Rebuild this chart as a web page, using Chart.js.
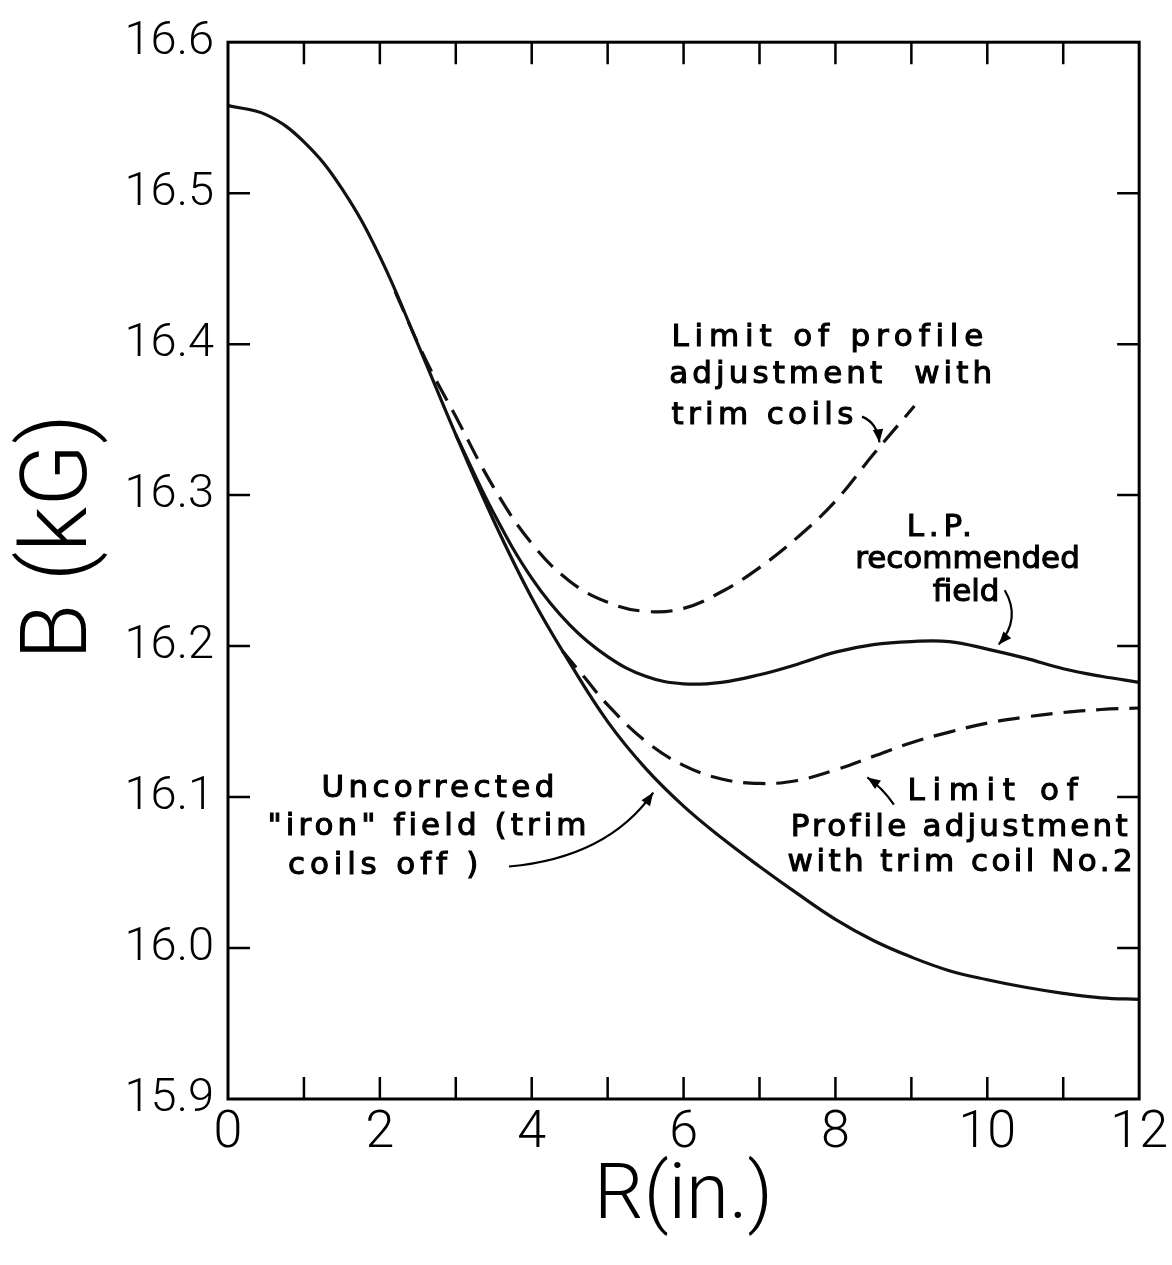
<!DOCTYPE html>
<html>
<head>
<meta charset="utf-8">
<title>B vs R</title>
<script src="https://cdn.jsdelivr.net/npm/chart.js@4.4.1/dist/chart.umd.min.js"></script>
<style>
  html, body { margin: 0; padding: 0; background: #fff; }
  #fieldChart { display: block; }
</style>
</head>
<body>
<canvas id="fieldChart" width="1172" height="1265"></canvas>
<script>
// values: R in inches, B in kG
const rIron = [0, 0.5, 1, 1.5, 2, 2.5, 3, 3.5, 4, 4.5, 5, 5.5, 6, 6.5, 7, 7.5, 8, 8.5, 9, 9.5, 10, 10.5, 11, 11.5, 12];
const bIron = [16.558, 16.552, 16.534, 16.503, 16.458, 16.400, 16.340, 16.283, 16.232, 16.189, 16.150, 16.119, 16.094, 16.073, 16.054, 16.036, 16.019, 16.005, 15.994, 15.985, 15.979, 15.974, 15.970, 15.967, 15.966];

const rLP = [3, 3.5, 4, 4.5, 5, 5.5, 6, 6.5, 7, 7.5, 8, 8.5, 9, 9.5, 10, 10.5, 11, 11.5, 12];
const bLP = [16.340, 16.288, 16.245, 16.214, 16.193, 16.180, 16.175, 16.176, 16.181, 16.188, 16.196, 16.201, 16.203, 16.203, 16.198, 16.192, 16.185, 16.180, 16.176];

const rTrim = [2.2, 2.6, 3, 3.5, 4, 4.5, 5, 5.5, 6, 6.5, 7, 7.5, 8, 8.5, 9.04];
const bTrim = [16.435, 16.390, 16.352, 16.305, 16.268, 16.243, 16.229, 16.223, 16.225, 16.236, 16.252, 16.272, 16.296, 16.327, 16.359];

const rCoil2 = [4.4, 4.7, 5, 5.5, 6, 6.5, 7, 7.5, 8, 8.5, 9, 9.5, 10, 10.5, 11, 11.5, 12];
const bCoil2 = [16.197, 16.179, 16.161, 16.137, 16.121, 16.112, 16.109, 16.111, 16.118, 16.127, 16.136, 16.143, 16.149, 16.153, 16.156, 16.158, 16.159];

const xTicks = [0, 2, 4, 6, 8, 10, 12];
const yTicks = [15.9, 16.0, 16.1, 16.2, 16.3, 16.4, 16.5, 16.6];

// hand lettering on the plot: left end of the baseline in data units, w = lettered width in px
const notes = [
  { text: 'Limit of profile', r: 5.84, b: 16.399, w: 312 },
  { text: 'adjustment  with', r: 5.81, b: 16.374, w: 323 },
  { text: 'trim coils', r: 5.84, b: 16.347, w: 182 },
  { text: 'L.P.', r: 8.94, b: 16.273, w: 65 },
  { text: 'recommended', r: 8.26, b: 16.252, w: 222 },
  { text: 'field', r: 9.28, b: 16.230, w: 60 },
  { text: 'Limit of', r: 8.95, b: 16.098, w: 170 },
  { text: 'Profile adjustment', r: 7.41, b: 16.074, w: 337 },
  { text: 'with trim coil No.2', r: 7.37, b: 16.051, w: 345 },
  { text: 'Uncorrected', r: 1.23, b: 16.100, w: 233 },
  { text: '"iron" field (trim', r: 0.52, b: 16.075, w: 319 },
  { text: 'coils off )', r: 0.79, b: 16.049, w: 190 }
];

const arrows = [
  { from: [8.35, 16.352], via: [8.55, 16.348], to: [8.58, 16.335] },
  { from: [10.23, 16.237], via: [10.45, 16.218], to: [10.15, 16.201] },
  { from: [8.77, 16.095], via: [8.62, 16.106], to: [8.42, 16.113] },
  { from: [3.70, 16.054], via: [5.00, 16.060], to: [5.60, 16.103] }
];

const toPoints = (xs, ys) => xs.map((x, i) => ({ x: x, y: ys[i] }));

const TICK = 22;

const paperBackground = {
  id: 'paperBackground',
  beforeDraw(chart) {
    const ctx = chart.ctx;
    ctx.save();
    ctx.fillStyle = '#fff';
    ctx.fillRect(0, 0, chart.width, chart.height);
    ctx.restore();
  }
};

// frame with inward tick marks on all four sides
const frameTicks = {
  id: 'frameTicks',
  afterDatasetsDraw(chart) {
    const { ctx, chartArea: a, scales: { x, y } } = chart;
    ctx.save();
    ctx.strokeStyle = '#000';
    ctx.lineWidth = 3;
    ctx.strokeRect(a.left, a.top, a.right - a.left, a.bottom - a.top);
    ctx.lineWidth = 2.5;
    ctx.beginPath();
    for (let v = x.min + 1; v < x.max; v++) {
      const px = x.getPixelForValue(v);
      ctx.moveTo(px, a.bottom);
      ctx.lineTo(px, a.bottom - TICK);
      ctx.moveTo(px, a.top);
      ctx.lineTo(px, a.top + TICK);
    }
    yTicks.slice(1, -1).forEach(v => {
      const py = y.getPixelForValue(v);
      ctx.moveTo(a.left, py);
      ctx.lineTo(a.left + TICK, py);
      ctx.moveTo(a.right, py);
      ctx.lineTo(a.right - TICK, py);
    });
    ctx.stroke();
    ctx.restore();
  }
};

const lettering = {
  id: 'lettering',
  afterDatasetsDraw(chart) {
    const { ctx, scales: { x, y } } = chart;
    ctx.save();
    ctx.fillStyle = '#000';
    ctx.strokeStyle = '#000';
    ctx.lineWidth = 1.1;
    ctx.font = '31px "DejaVu Sans"';
    ctx.textAlign = 'left';
    ctx.textBaseline = 'alphabetic';
    notes.forEach(n => {
      ctx.letterSpacing = '0px';
      const plain = ctx.measureText(n.text).width;
      const sp = Math.max(0, (n.w - plain) / (n.text.length - 1));
      ctx.letterSpacing = sp.toFixed(2) + 'px';
      const px = x.getPixelForValue(n.r);
      const py = y.getPixelForValue(n.b);
      ctx.fillText(n.text, px, py);
      ctx.strokeText(n.text, px, py);
    });
    ctx.letterSpacing = '0px';

    ctx.lineWidth = 2.2;
    arrows.forEach(ar => {
      const p0 = [x.getPixelForValue(ar.from[0]), y.getPixelForValue(ar.from[1])];
      const p1 = [x.getPixelForValue(ar.via[0]), y.getPixelForValue(ar.via[1])];
      const p2 = [x.getPixelForValue(ar.to[0]), y.getPixelForValue(ar.to[1])];
      ctx.beginPath();
      ctx.moveTo(p0[0], p0[1]);
      ctx.quadraticCurveTo(p1[0], p1[1], p2[0], p2[1]);
      ctx.stroke();
      const ang = Math.atan2(p2[1] - p1[1], p2[0] - p1[0]);
      const len = 14, spread = 0.38;
      ctx.beginPath();
      ctx.moveTo(p2[0], p2[1]);
      ctx.lineTo(p2[0] - len * Math.cos(ang - spread), p2[1] - len * Math.sin(ang - spread));
      ctx.lineTo(p2[0] - len * Math.cos(ang + spread), p2[1] - len * Math.sin(ang + spread));
      ctx.closePath();
      ctx.fill();
    });
    ctx.restore();
  }
};

const lineStyle = {
  borderColor: '#111',
  borderWidth: 3.2,
  pointRadius: 0,
  fill: false,
  tension: 0.4
};

const ctx = document.getElementById('fieldChart').getContext('2d');

new Chart(ctx, {
  type: 'line',
  data: {
    datasets: [
      Object.assign({ label: 'Uncorrected "iron" field', data: toPoints(rIron, bIron) }, lineStyle),
      Object.assign({ label: 'L.P. recommended field', data: toPoints(rLP, bLP) }, lineStyle),
      Object.assign({ label: 'Limit with trim coils', data: toPoints(rTrim, bTrim), borderDash: [22, 11] }, lineStyle),
      Object.assign({ label: 'Limit with trim coil No.2', data: toPoints(rCoil2, bCoil2), borderDash: [22, 11] }, lineStyle)
    ]
  },
  options: {
    responsive: false,
    devicePixelRatio: 1,
    animation: false,
    layout: { padding: { top: 37, right: 29, left: 0, bottom: 0 } },
    plugins: {
      legend: { display: false },
      tooltip: { enabled: false }
    },
    scales: {
      x: {
        type: 'linear',
        min: 0,
        max: 12,
        afterBuildTicks: s => { s.ticks = xTicks.map(v => ({ value: v })); },
        afterFit: s => { s.height = 166; },
        grid: { display: false, drawTicks: false },
        border: { display: false },
        ticks: {
          padding: 4,
          color: '#000',
          maxRotation: 0,
          font: { family: 'Roboto', weight: 300, size: 52 }
        },
        title: {
          display: true,
          text: 'R(in.)',
          color: '#000',
          font: { family: 'Roboto', weight: 300, size: 78 },
          padding: { top: 0, bottom: 20 }
        }
      },
      y: {
        type: 'linear',
        min: 15.9,
        max: 16.6,
        afterBuildTicks: s => { s.ticks = yTicks.map(v => ({ value: v })); },
        afterFit: s => { s.width = 228; },
        grid: { display: false, drawTicks: false },
        border: { display: false },
        ticks: {
          padding: 14,
          color: '#000',
          font: { family: 'Roboto', weight: 300, size: 47 },
          callback: v => v.toFixed(1)
        },
        title: {
          display: true,
          text: '   B (kG)',
          color: '#000',
          font: { family: 'Roboto', weight: 300, size: 92 },
          padding: { top: 8, bottom: 0 }
        }
      }
    }
  },
  plugins: [paperBackground, frameTicks, lettering]
});
</script>
</body>
</html>
